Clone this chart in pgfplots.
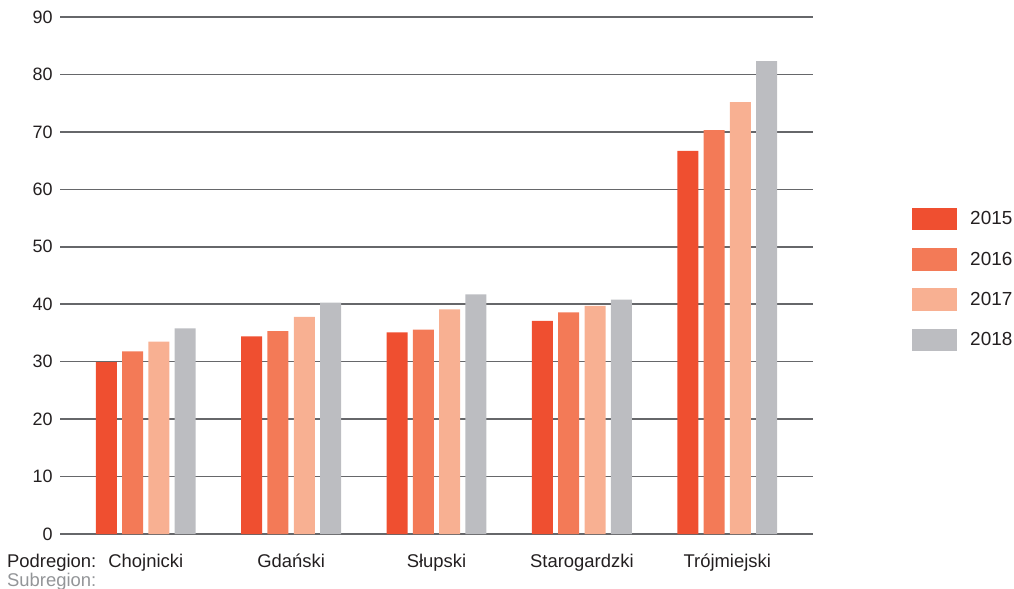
\documentclass[border=0pt]{standalone}
\usepackage{pgfplots}
\pgfplotsset{compat=1.18}
\usepackage{fontspec}
\setmainfont{Liberation Sans}
\definecolor{c15}{HTML}{EF4F30}
\definecolor{c16}{HTML}{F37A57}
\definecolor{c17}{HTML}{F8B092}
\definecolor{c18}{HTML}{BCBDC1}
\definecolor{gridc}{HTML}{66676A}
\definecolor{txt}{HTML}{231F20}
\definecolor{subc}{HTML}{939598}
\begin{document}
\begin{tikzpicture}
\begin{axis}[
  at={(0,0)}, anchor=south west,
  scale only axis, width=753bp, height=517bp,
  ybar=5.3bp, bar width=21bp,
  xmin=-0.59, xmax=4.59, ymin=0, ymax=90,
  ytick={0,10,...,90},
  xtick={0,1,2,3,4},
  xticklabels={Chojnicki,Gdański,Słupski,Starogardzki,Trójmiejski},
  ymajorgrids, grid style={gridc, line width=1.6bp},
  axis line style={draw=none}, major tick length=0pt,
  tick label style={font=\fontsize{18}{21}\selectfont, text=txt},
  xticklabel style={font=\fontsize{18.5}{21}\selectfont},
  /pgf/number format/assume math mode=true,
  xticklabel style={anchor=base, yshift=-33bp},
  yticklabel style={anchor=east, xshift=-4bp},
  legend image code/.code={\fill[#1,/tikz/.cd] (0bp,-11.35bp) rectangle (45bp,11.35bp);},
  legend style={draw=none, fill=none, at={(1.1315,0.6315)}, anchor=north west,
    font=\fontsize{19}{22}\selectfont, text=txt, row sep=17.6bp, inner sep=0pt,
    nodes={inner xsep=5bp},
    /tikz/every odd column/.append style={column sep=8bp}},
  legend cell align=left,
]
\addplot[fill=c15, draw=none] coordinates {(0,29.9) (1,34.4) (2,35.1) (3,37.1) (4,66.7)};
\addplot[fill=c16, draw=none] coordinates {(0,31.8) (1,35.3) (2,35.6) (3,38.6) (4,70.3)};
\addplot[fill=c17, draw=none] coordinates {(0,33.5) (1,37.8) (2,39.1) (3,39.7) (4,75.2)};
\addplot[fill=c18, draw=none] coordinates {(0,35.8) (1,40.3) (2,41.7) (3,40.8) (4,82.3)};
\legend{2015,2016,2017,2018}
\end{axis}
\node[anchor=base west, font=\fontsize{18.5}{21}\selectfont, text=txt, inner sep=0pt] at (-53bp,-33bp) {Podregion:};
\node[anchor=base west, font=\fontsize{18.5}{21}\selectfont, text=subc, inner sep=0pt] at (-53bp,-52bp) {Subregion:};
\pgfresetboundingbox
\path (-60bp,-55bp) rectangle (954bp,534bp);
\end{tikzpicture}
\end{document}
